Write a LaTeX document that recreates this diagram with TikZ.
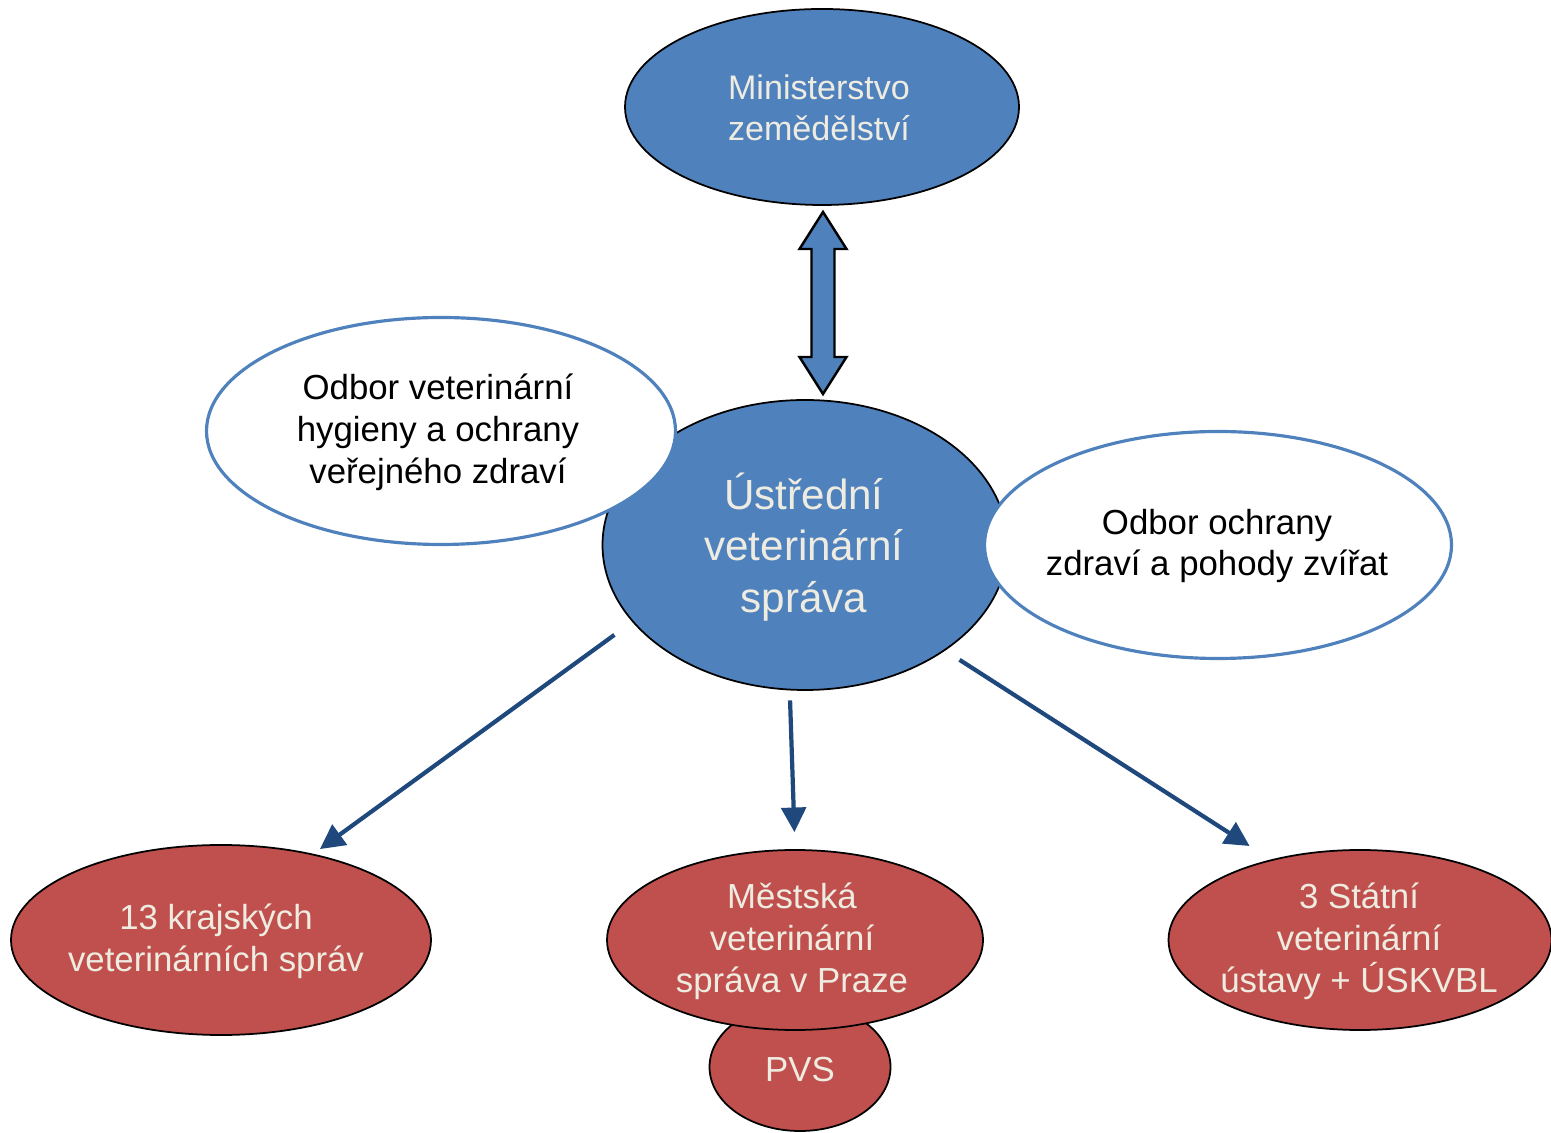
\documentclass[tikz,border=0pt]{standalone}
\usepackage{fontspec}
\setmainfont{Liberation Sans}
\usetikzlibrary{shapes.geometric,arrows.meta}

\definecolor{ovalblue}{HTML}{4F81BD}
\definecolor{ovalred}{HTML}{C0504D}
\definecolor{arrowblue}{HTML}{1F497D}
\definecolor{paletext}{HTML}{EEECE1}

\begin{document}
\begin{tikzpicture}[
	blueoval/.style={ellipse, draw=black, line width=0.5pt, fill=ovalblue, inner sep=0pt},
	redoval/.style={ellipse, draw=black, line width=0.5pt, fill=ovalred, inner sep=0pt},
	whiteoval/.style={ellipse, draw=ovalblue, line width=0.9pt, fill=white, inner sep=0pt},
	lighttext/.style={text=paletext, align=center, font=\fontsize{9.9}{11.9}\selectfont},
	darktext/.style={text=black, align=center, font=\fontsize{9.9}{11.9}\selectfont},
	linkarrow/.style={draw=arrowblue, line width=1.2pt, -{Triangle[length=7pt, width=7pt]}},
	bigarrow/.style={draw=black, line width=0.7pt, fill=ovalblue, line join=miter}
	]

	\useasboundingbox (0,0) rectangle (15.51,11.32);

	% top and centre
	\node [blueoval, minimum width=3.94cm, minimum height=1.96cm] (min) at (8.22,10.25) {};
	\node [lighttext, font=\fontsize{9.7}{11.5}\selectfont] (min-t) at (8.19,10.24) {Ministerstvo\\zemědělství};

	\node [blueoval, minimum width=4.05cm, minimum height=2.90cm] (usv) at (8.05,5.87) {};
	\node [lighttext, font=\fontsize{12}{14.6}\selectfont] (usv-t) at (8.04,5.85) {Ústřední\\veterinární\\ správa};

	% double arrow between them
	\coordinate (lt) at (8.23,9.20);
	\draw [bigarrow] (lt) -- ++(0.235,-0.37) -- ++(-0.12,0) -- ++(0,-1.08) -- ++(0.12,0)
		-- ++(-0.235,-0.37) -- ++(-0.235,0.37) -- ++(0.12,0) -- ++(0,1.08) -- ++(-0.12,0) -- cycle;

	% the two departments
	\node [whiteoval, minimum width=4.69cm, minimum height=2.27cm] (ovh) at (4.41,7.01) {};
	\node [darktext] (ovh-t) at (4.38,7.00) {Odbor veterinární\\hygieny a ochrany\\ veřejného zdraví};

	\node [whiteoval, minimum width=4.67cm, minimum height=2.27cm] (ooz) at (12.18,5.87) {};
	\node [darktext] (ooz-t) at (12.17,5.86) {Odbor ochrany\\zdraví a pohody zvířat};

	% bottom row
	\node [redoval, minimum width=4.20cm, minimum height=1.90cm] (kvs) at (2.21,1.92) {};
	\node [lighttext] (kvs-t) at (2.16,1.91) {13 krajských\\veterinárních správ};

	\node [redoval, minimum width=1.81cm, minimum height=1.28cm] (pvs) at (8.00,0.65) {};
	\node [lighttext] (pvs-t) at (8.00,0.62) {PVS};

	\node [redoval, minimum width=3.76cm, minimum height=1.80cm] (mvs) at (7.95,1.92) {};
	\node [lighttext] (mvs-t) at (7.92,1.91) {Městská\\veterinární\\správa v Praze};

	\node [redoval, minimum width=3.83cm, minimum height=1.80cm] (svu) at (13.60,1.92) {};
	\node [lighttext] (svu-t) at (13.59,1.91) {3 Státní\\veterinární\\ústavy + ÚSKVBL};

	% arrows down
	\draw [linkarrow, shorten <=0.22cm, shorten >=0.08cm] (usv.204) -- (kvs.43);
	\draw [linkarrow, shorten <=0.1cm, shorten >=0.17cm] (usv.264) -- (mvs.north);
	\draw [linkarrow, shorten <=0.17cm, shorten >=0.25cm] (usv.323) -- (svu.138);

\end{tikzpicture}
\end{document}
